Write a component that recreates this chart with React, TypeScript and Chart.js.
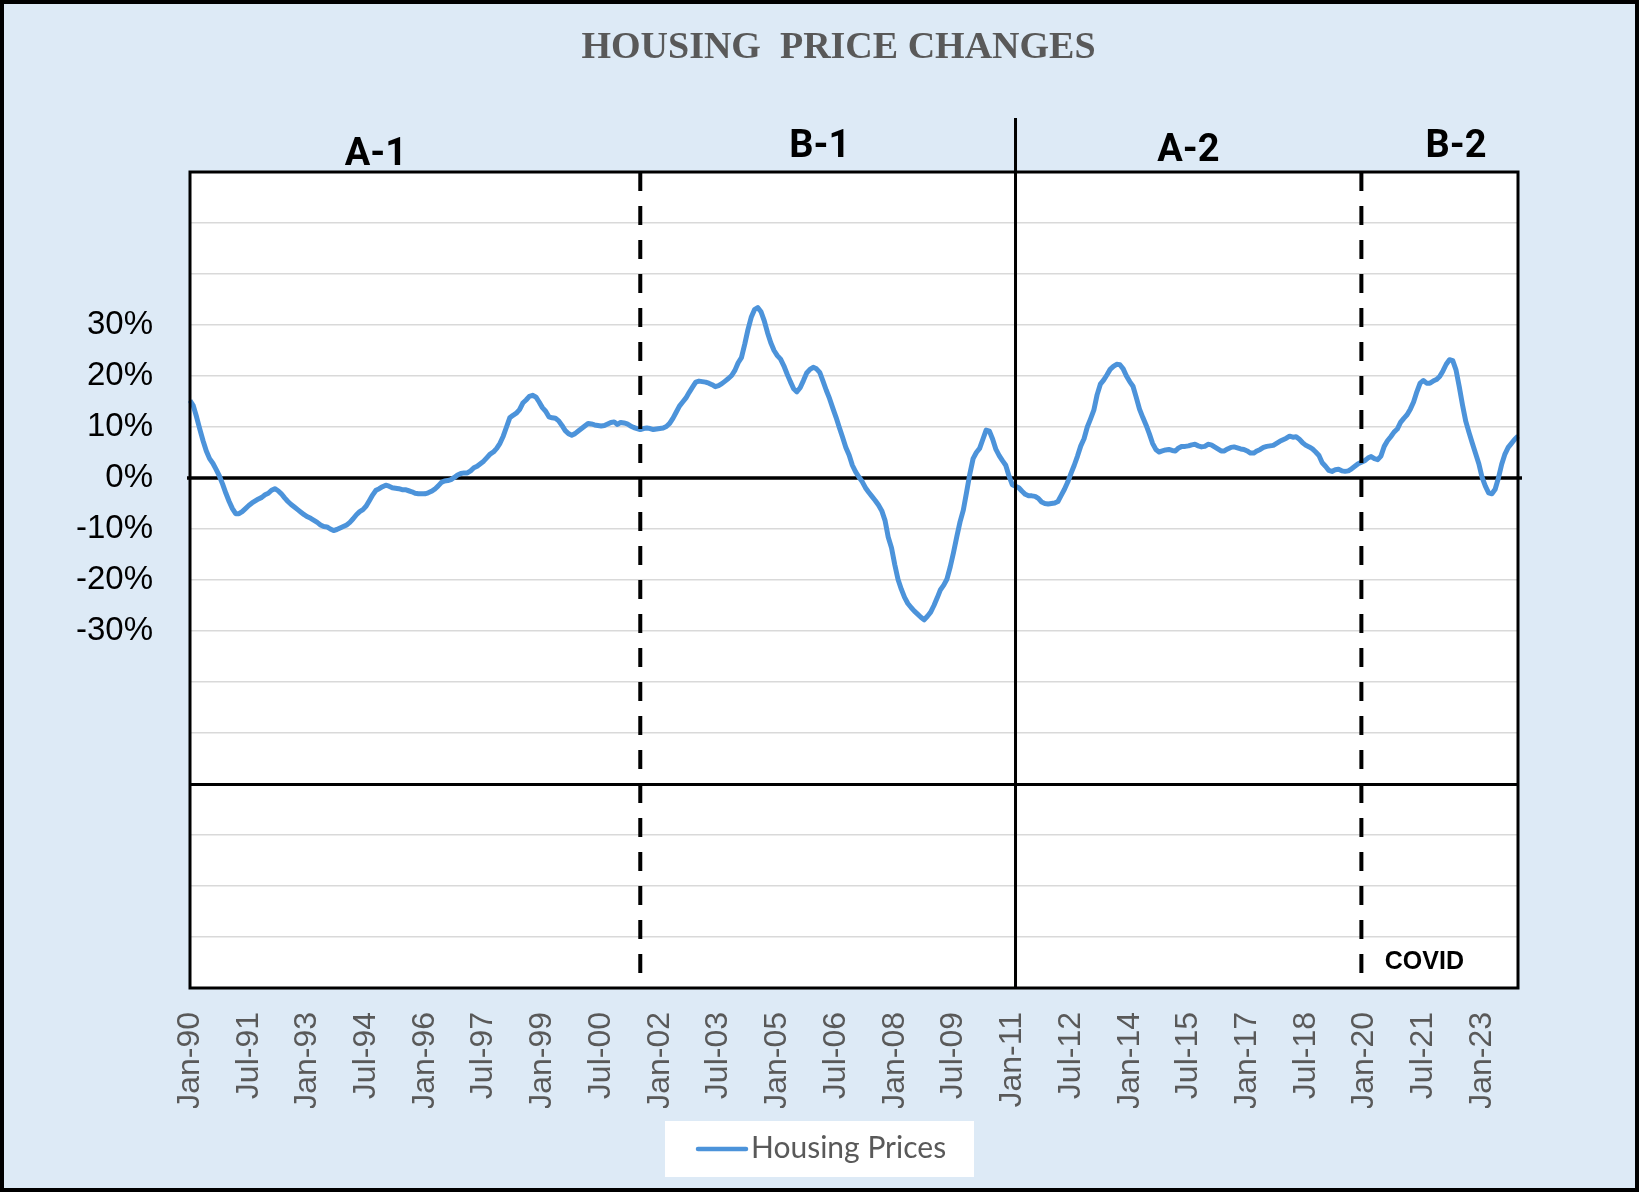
import React, { useEffect, useRef } from 'react';
import { Chart, registerables } from 'chart.js';

Chart.register(...registerables);

// ---------- DATA ----------
const MONTHS = ['Jan', 'Feb', 'Mar', 'Apr', 'May', 'Jun', 'Jul', 'Aug', 'Sep', 'Oct', 'Nov', 'Dec'];
const FIRST_YEAR = 1990;
const LAST_YEAR = 2023;

// Year-over-year housing price change (%), monthly Jan-90 .. Dec-23
const prices1990s = [
  15.2, 14.2, 12.0, 9.6, 7.3, 5.3, 3.8, 2.9, 1.7, 0.4, -1.2, -3.0,
  -4.6, -6.0, -7.0, -7.0, -6.6, -6.0, -5.4, -4.9, -4.5, -4.1, -3.8, -3.3,
  -3.0, -2.4, -2.1, -2.5, -3.1, -3.9, -4.6, -5.2, -5.7, -6.2, -6.7, -7.2,
  -7.6, -7.9, -8.3, -8.7, -9.2, -9.5, -9.6, -10.0, -10.3, -10.1, -9.8, -9.5,
  -9.2, -8.7, -8.0, -7.2, -6.6, -6.2, -5.5, -4.4, -3.3, -2.4, -2.1, -1.7,
  -1.4, -1.6, -1.9, -2.0, -2.1, -2.3, -2.3, -2.5, -2.7, -3.0, -3.1, -3.1,
  -3.1, -2.9, -2.6, -2.2, -1.6, -0.9, -0.6, -0.5, -0.3, 0.1, 0.6, 0.9,
  1.0, 1.0, 1.4, 2.0, 2.3, 2.8, 3.3, 4.0, 4.7, 5.1, 5.8, 6.8,
  8.2, 10.0, 11.8, 12.3, 12.7, 13.4, 14.7, 15.3, 16.0, 16.2, 15.9, 14.9,
  13.8, 13.1, 12.0, 11.8, 11.7, 11.2, 10.3, 9.3, 8.7, 8.4, 8.7, 9.2,
];
const prices2000s = [
  9.7, 10.2, 10.7, 10.6, 10.4, 10.3, 10.2, 10.3, 10.6, 10.9, 11.0, 10.5,
  10.9, 10.8, 10.6, 10.2, 9.9, 9.7, 9.5, 9.7, 9.8, 9.7, 9.5, 9.6,
  9.7, 9.8, 10.1, 10.7, 11.7, 12.9, 14.1, 14.9, 15.7, 16.8, 17.8, 18.8,
  19.0, 18.9, 18.8, 18.6, 18.3, 17.9, 18.1, 18.5, 19.0, 19.5, 20.1, 21.1,
  22.6, 23.6, 26.2, 29.1, 31.5, 33.0, 33.4, 32.6, 30.8, 28.5, 26.5, 25.0,
  24.0, 23.3, 22.0, 20.4, 18.9, 17.5, 16.9, 17.7, 19.1, 20.6, 21.3, 21.7,
  21.4, 20.7, 19.0, 17.2, 15.6, 13.7, 11.9, 9.9, 8.0, 6.0, 4.5, 2.5,
  1.2, 0.2, -0.7, -1.9, -2.8, -3.6, -4.4, -5.3, -6.4, -8.3, -11.6, -13.7,
  -17.0, -19.9, -21.8, -23.4, -24.6, -25.4, -26.1, -26.7, -27.3, -27.8, -27.1, -26.3,
  -25.0, -23.5, -21.9, -21.0, -19.8, -17.4, -14.6, -11.5, -8.6, -6.3, -2.8, 0.8,
];
const prices2010s = [
  3.8, 5.0, 5.8, 7.6, 9.4, 9.2, 7.6, 5.6, 4.4, 3.4, 2.5, 0.4,
  -1.3, -1.6, -1.9, -2.6, -3.2, -3.5, -3.5, -3.6, -4.0, -4.7, -5.0, -5.1,
  -5.0, -4.9, -4.6, -3.4, -2.2, -0.8, 0.9, 2.5, 4.3, 6.3, 7.7, 10.0,
  11.6, 13.3, 16.3, 18.4, 19.2, 20.2, 21.3, 21.9, 22.3, 22.2, 21.4, 20.0,
  18.9, 18.0, 15.8, 13.5, 11.9, 10.4, 8.7, 6.8, 5.6, 5.1, 5.3, 5.5,
  5.6, 5.4, 5.3, 5.9, 6.2, 6.2, 6.3, 6.5, 6.6, 6.3, 6.1, 6.2,
  6.6, 6.5, 6.1, 5.7, 5.3, 5.3, 5.7, 6.0, 6.1, 5.9, 5.7, 5.6,
  5.3, 4.9, 4.9, 5.3, 5.6, 6.0, 6.2, 6.3, 6.4, 6.8, 7.2, 7.5,
  7.8, 8.2, 8.0, 8.1, 7.6, 6.9, 6.4, 6.1, 5.7, 5.1, 4.4, 3.0,
  2.3, 1.5, 1.3, 1.6, 1.7, 1.4, 1.3, 1.4, 1.8, 2.3, 2.8, 3.1,
];
const prices2020s = [
  3.4, 3.9, 4.2, 3.8, 3.6, 4.3, 6.2, 7.3, 8.1, 9.0, 9.6, 10.9,
  11.7, 12.4, 13.5, 14.9, 16.9, 18.6, 19.1, 18.6, 18.6, 19.0, 19.3, 19.9,
  21.0, 22.3, 23.2, 23.0, 21.2, 17.9, 14.3, 11.1, 8.9, 6.8, 4.8, 2.8,
  0.1, -1.6, -2.9, -3.1, -2.2, 0.0, 2.7, 4.7, 6.0, 6.8, 7.6, 8.2,
];

const SERIES_LABEL = 'Housing Prices';
const TITLE = 'HOUSING  PRICE CHANGES';

// x tick labels shown on the axis
const xTickLabels = [
  'Jan-90', 'Jul-91', 'Jan-93', 'Jul-94', 'Jan-96', 'Jul-97', 'Jan-99', 'Jul-00',
  'Jan-02', 'Jul-03', 'Jan-05', 'Jul-06', 'Jan-08', 'Jul-09', 'Jan-11', 'Jul-12',
  'Jan-14', 'Jul-15', 'Jan-17', 'Jul-18', 'Jan-20', 'Jul-21', 'Jan-23',
];
// y tick values shown on the axis
const yTickValues = [-30, -20, -10, 0, 10, 20, 30];

// period dividers and labels (positions given as category labels)
const dividerDates = ['Jul-01', 'Feb-11', 'Dec-19'];
const dividerKinds = ['dashed', 'solid', 'dashed'];
const periodNames = ['A-1', 'B-1', 'A-2', 'B-2'];
const periodLabelDates = ['Oct-94', 'Feb-06', 'Jul-15', 'May-22'];
const noteText = 'COVID';
const noteDate = 'Jul-21';

// ---------- derived ----------
const categories: string[] = [];
for (let y = FIRST_YEAR; y <= LAST_YEAR; y++) {
  for (const m of MONTHS) categories.push(`${m}-${String(y % 100).padStart(2, '0')}`);
}
const housingPrices = [...prices1990s, ...prices2000s, ...prices2010s, ...prices2020s];

// ---------- styling ----------
const BG = '#DDEAF6';
const LINE_COLOR = '#4C93DA';
const GRID = '#D9D9D9';

const periodLabelOffsets = [7, 15, 11, 15];

const decorations = {
  id: 'decorations',
  beforeDraw(chart: any) {
    const { ctx, chartArea: a, width, height } = chart;
    ctx.save();
    ctx.fillStyle = BG;
    ctx.fillRect(0, 0, width, height);
    ctx.fillStyle = '#FFFFFF';
    ctx.fillRect(a.left, a.top, a.right - a.left, a.bottom - a.top);
    ctx.restore();
  },
  beforeDatasetsDraw(chart: any) {
    const { ctx, chartArea: a } = chart;
    const y0 = chart.scales.y.getPixelForValue(0);
    ctx.save();
    ctx.strokeStyle = '#000';
    ctx.lineWidth = 3.5;
    ctx.beginPath();
    ctx.moveTo(a.left - 3, y0);
    ctx.lineTo(a.right + 4, y0);
    ctx.stroke();
    ctx.restore();
  },
  afterDatasetsDraw(chart: any) {
    const { ctx, chartArea: a, width, height } = chart;
    const xs = chart.scales.x;
    const px = (lab: string) => xs.getPixelForValue(categories.indexOf(lab));
    ctx.save();

    // dividers
    dividerDates.forEach((d, i) => {
      const x = px(d);
      ctx.strokeStyle = '#000';
      ctx.beginPath();
      if (dividerKinds[i] === 'dashed') {
        ctx.lineWidth = 4;
        ctx.setLineDash([19, 15]);
        ctx.moveTo(x, a.top);
        ctx.lineTo(x, i === dividerDates.length - 1 ? a.bottom - 8 : a.bottom);
      } else {
        ctx.lineWidth = 3;
        ctx.setLineDash([]);
        ctx.moveTo(x, a.top - 54);
        ctx.lineTo(x, a.bottom);
      }
      ctx.stroke();
    });
    ctx.setLineDash([]);

    // plot border
    ctx.lineWidth = 3;
    ctx.strokeStyle = '#000';
    ctx.strokeRect(a.left, a.top, a.right - a.left, a.bottom - a.top);

    // period labels
    ctx.fillStyle = '#000';
    ctx.font = 'bold 38px Roboto';
    ctx.textAlign = 'center';
    ctx.textBaseline = 'alphabetic';
    periodNames.forEach((n, i) => {
      ctx.fillText(n, px(periodLabelDates[i]), a.top - periodLabelOffsets[i]);
    });

    // COVID note
    ctx.font = 'bold 25px "Liberation Sans"';
    ctx.fillText(noteText, px(noteDate) + 1, a.bottom - 19);

    // title
    ctx.fillStyle = '#595959';
    ctx.font = 'bold 38px "Liberation Serif"';
    ctx.fillText(TITLE, width / 2 + 19, 58);

    // legend
    const ds = chart.data.datasets[0];
    ctx.fillStyle = '#FFFFFF';
    ctx.fillRect(665, 1121, 309, 56);
    ctx.strokeStyle = ds.borderColor;
    ctx.lineWidth = 4.5;
    ctx.lineCap = 'round';
    ctx.beginPath();
    ctx.moveTo(698, 1149);
    ctx.lineTo(746, 1149);
    ctx.stroke();
    ctx.fillStyle = '#595959';
    ctx.font = '30px Lato';
    ctx.textAlign = 'left';
    ctx.fillText(ds.label, 751, 1158);

    // outer frame
    ctx.lineCap = 'butt';
    ctx.strokeStyle = '#000';
    ctx.lineWidth = 8;
    ctx.strokeRect(0, 0, width, height);
    ctx.restore();
  },
};

export default function App() {
  const ref = useRef<HTMLCanvasElement | null>(null);
  useEffect(() => {
    if (!ref.current) return;
    const chart = new Chart(ref.current, {
      type: 'line',
      data: {
        labels: categories,
        datasets: [
          {
            label: SERIES_LABEL,
            data: housingPrices,
            borderColor: LINE_COLOR,
            borderWidth: 5,
            pointRadius: 0,
            tension: 0,
            fill: false,
            borderJoinStyle: 'round',
          },
        ],
      },
      options: {
        animation: false,
        responsive: false,
        layout: { padding: { left: 40, top: 172, right: 121, bottom: 84 } },
        plugins: { legend: { display: false }, title: { display: false }, tooltip: { enabled: false } },
        scales: {
          x: {
            type: 'category',
            offset: false,
            grid: { display: false, drawTicks: false },
            border: { display: false },
            ticks: {
              autoSkip: false,
              maxRotation: 90,
              minRotation: 90,
              padding: 24,
              color: '#595959',
              font: { family: '"Liberation Sans"', size: 32 },
              callback: (v: any, i: number) => (xTickLabels.includes(categories[i]) ? categories[i] : ''),
            },
            afterFit: (s: any) => { s.height = 120; },
          },
          y: {
            min: -100,
            max: 60,
            grid: {
              drawTicks: false,
              color: (c: any) => (c.tick && c.tick.value === -60 ? '#000' : c.tick && c.tick.value === 0 ? 'rgba(0,0,0,0)' : GRID),
              lineWidth: (c: any) => (c.tick && c.tick.value === -60 ? 3 : 1.5),
            },
            border: { display: false },
            ticks: {
              stepSize: 10,
              autoSkip: false,
              padding: 37,
              color: '#000',
              font: { family: '"Liberation Sans"', size: 33 },
              callback: (v: any) => (yTickValues.includes(Number(v)) ? `${v}%` : ''),
            },
            afterFit: (s: any) => { s.width = 150; },
          },
        },
      },
      plugins: [decorations],
    });
    return () => chart.destroy();
  }, []);
  return (
    <div style={{ position: 'absolute', left: 0, top: 0, width: 1639, height: 1192 }}>
      <canvas ref={ref} width={1639} height={1192} style={{ display: 'block' }} />
    </div>
  );
}
